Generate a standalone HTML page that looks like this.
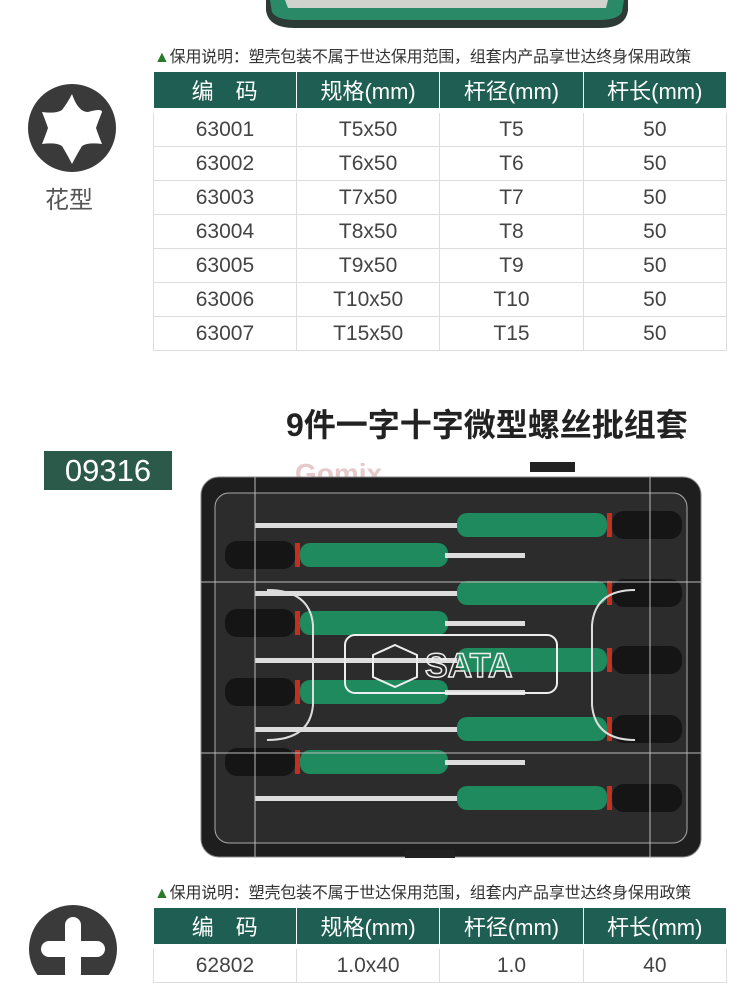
<!DOCTYPE html>
<html><head><meta charset="utf-8"><style>
body{margin:0;width:750px;height:971px;background:#fff;position:relative;overflow:hidden;font-family:"Liberation Sans","Noto Sans CJK SC",sans-serif;}
.abs{position:absolute}
.warn{position:absolute;left:154px;font-size:16px;color:#333;white-space:nowrap;letter-spacing:-0.2px}
.warn b{color:#2a7a2a;}
table{position:absolute;left:153px;border-collapse:collapse;width:574px;font-size:21px;color:#444}
th{background:#1f5e52;color:#fff;font-weight:normal;height:36px;border-right:1px solid #fff;width:143px;padding:0;font-size:22px}
tr.gap td{height:5px;border:none}
td{height:33px;border-bottom:1px solid #ddd;border-right:1px solid #ddd;text-align:center;padding:0}
td:first-child{border-left:1px solid #ddd}
</style></head><body>
<svg class="abs" style="left:0;top:0" width="750" height="40">
<path d="M266 0 L628 0 L628 10 Q626 28 600 28 L295 28 Q268 28 266 10 Z" fill="#2d3a36"/>
<path d="M270 0 L624 0 L622 12 Q618 20 598 20 L296 20 Q276 20 272 12 Z" fill="#2a8a68"/>
<path d="M285 0 L608 0 L606 8 L288 8 Z" fill="#cfd3cc"/>
</svg>
<div class="warn" style="top:43px"><b>▲</b>保用说明：塑壳包装不属于世达保用范围，组套内产品享世达终身保用政策</div>
<table style="top:72px">
<tr><th>编　码</th><th>规格(mm)</th><th>杆径(mm)</th><th>杆长(mm)</th></tr>
<tr class="gap"><td></td><td></td><td></td><td></td></tr>
<tr><td>63001</td><td>T5x50</td><td>T5</td><td>50</td></tr>
<tr><td>63002</td><td>T6x50</td><td>T6</td><td>50</td></tr>
<tr><td>63003</td><td>T7x50</td><td>T7</td><td>50</td></tr>
<tr><td>63004</td><td>T8x50</td><td>T8</td><td>50</td></tr>
<tr><td>63005</td><td>T9x50</td><td>T9</td><td>50</td></tr>
<tr><td>63006</td><td>T10x50</td><td>T10</td><td>50</td></tr>
<tr><td>63007</td><td>T15x50</td><td>T15</td><td>50</td></tr>
</table>
<svg class="abs" style="left:26px;top:84px" width="92" height="92">
<circle cx="46" cy="44" r="44" fill="#3a3a3a"/>
<path d="M46 10 Q52 28 62 28 Q76 24 76 28 Q72 38 70 44 Q72 50 76 60 Q62 58 56 62 Q50 72 46 80 Q42 72 36 62 Q30 58 16 60 Q20 50 22 44 Q20 38 16 28 Q30 30 36 26 Q42 18 46 10Z" fill="#fff"/>
</svg>
<div class="abs" style="left:45px;top:180px;font-size:24px;color:#555">花型</div>
<div class="abs" style="left:286px;top:400px;font-size:32px;font-weight:bold;color:#222;white-space:nowrap">9件一字十字微型螺丝批组套</div>
<div class="abs" style="left:44px;top:451px;width:128px;height:39px;background:#2b5a4a;color:#fff;font-size:31px;text-align:center;line-height:39px">09316</div>
<svg class="abs" style="left:195px;top:455px" width="515" height="410">
<text x="100" y="28" font-size="28" font-weight="bold" fill="#e6c9c9" font-family="Liberation Sans">Gomix</text>
<rect x="6" y="22" width="500" height="380" rx="18" fill="#1e1e1e" stroke="#888"/>
<rect x="20" y="38" width="472" height="350" rx="14" fill="#2c2c2c" stroke="#aaa"/>
<g>
<g id="r"><rect x="60" y="68" width="210" height="5" fill="#ddd"/><rect x="262" y="58" width="150" height="24" rx="10" fill="#1f8a5e"/><rect x="412" y="58" width="5" height="24" fill="#c3301f"/><rect x="417" y="56" width="70" height="28" rx="12" fill="#151515"/></g>
<use href="#r" y="68"/><use href="#r" y="135"/><use href="#r" y="204"/><use href="#r" y="273"/>
<g id="l"><rect x="30" y="86" width="70" height="28" rx="12" fill="#151515"/><rect x="100" y="88" width="5" height="24" fill="#c3301f"/><rect x="105" y="88" width="148" height="24" rx="10" fill="#1f8a5e"/><rect x="250" y="98" width="80" height="5" fill="#ddd"/></g>
<use href="#l" y="68"/><use href="#l" y="137"/><use href="#l" y="207"/>
</g>
<rect x="150" y="180" width="212" height="58" rx="10" fill="none" stroke="#eee" stroke-width="2"/>
<text x="230" y="222" font-size="34" fill="none" stroke="#eee" stroke-width="1.5" font-family="Liberation Sans" font-weight="bold">SATA</text>
<path d="M200 190 L222 200 L222 222 L200 232 L178 222 L178 200Z" fill="none" stroke="#eee" stroke-width="2"/>
<path d="M72 135 Q115 135 118 170 L118 250 Q115 285 72 285" fill="none" stroke="#ddd" stroke-width="2"/>
<path d="M440 135 Q400 135 397 170 L397 250 Q400 285 440 285" fill="none" stroke="#ddd" stroke-width="2"/>
<line x1="60" y1="22" x2="60" y2="402" stroke="#bbb"/><line x1="455" y1="22" x2="455" y2="402" stroke="#bbb"/>
<line x1="6" y1="127" x2="506" y2="127" stroke="#bbb"/><line x1="6" y1="298" x2="506" y2="298" stroke="#bbb"/>
<rect x="210" y="395" width="50" height="8" fill="#222"/><rect x="335" y="7" width="45" height="10" fill="#222"/>
</svg>
<div class="warn" style="top:879px"><b>▲</b>保用说明：塑壳包装不属于世达保用范围，组套内产品享世达终身保用政策</div>
<table style="top:908px">
<tr><th>编　码</th><th>规格(mm)</th><th>杆径(mm)</th><th>杆长(mm)</th></tr>
<tr class="gap"><td></td><td></td><td></td><td></td></tr>
<tr><td>62802</td><td>1.0x40</td><td>1.0</td><td>40</td></tr>
</table>
<svg class="abs" style="left:28px;top:905px" width="92" height="70">
<circle cx="45" cy="44" r="44" fill="#3a3a3a"/>
<rect x="37" y="12" width="16" height="64" rx="8" fill="#fff"/>
<rect x="13" y="36" width="64" height="16" rx="8" fill="#fff"/>
</svg>
</body></html>
